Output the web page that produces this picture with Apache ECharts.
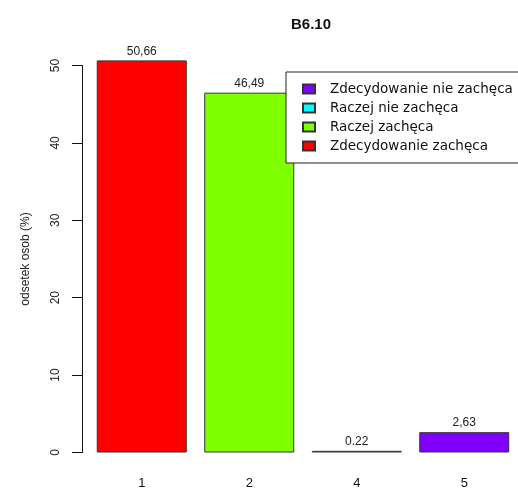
<!DOCTYPE html>
<html>
<head>
<meta charset="utf-8">
<script src="https://cdn.jsdelivr.net/npm/echarts@6/dist/echarts.min.js"></script>
<style>
  html, body { margin: 0; padding: 0; background: #ffffff; }
  #chart { width: 518px; height: 492px; }
</style>
</head>
<body>
<div id="chart"></div>
<script>
// Categories on the x axis
const categories = ['1', '2', '4', '5'];
// Answer groups, one per bar
const seriesNames = ['Zdecydowanie zachęca', 'Raczej zachęca', 'Raczej nie zachęca', 'Zdecydowanie nie zachęca'];
// Percentage of respondents
const values = [50.66, 46.49, 0.22, 2.63];
// Value labels printed above bars
const valueLabels = ['50,66', '46,49', '0.22', '2,63'];
// Bar colours
const colors = ['#FF0000', '#80FF00', '#00FFFF', '#8000FF'];
// Legend order (top to bottom)
const legendOrder = ['Zdecydowanie nie zachęca', 'Raczej nie zachęca', 'Raczej zachęca', 'Zdecydowanie zachęca'];
// Y axis ticks
const yTicks = [0, 10, 20, 30, 40, 50];

const FONT = 'Liberation Sans';

const series = seriesNames.map((name, i) => ({
  name: name,
  type: 'bar',
  stack: 'all',
  barWidth: 90,
  clip: false,
  data: categories.map((c, j) => (j === i ? values[i] : '-')),
  itemStyle: { color: colors[i], borderColor: '#333333', borderWidth: 1 },
  label: {
    show: true,
    position: 'top',
    distance: 3,
    fontFamily: FONT,
    fontSize: 12,
    color: '#222',
    formatter: (p) => valueLabels[p.dataIndex]
  }
}));

const chart = echarts.init(document.getElementById('chart'), null, { renderer: 'canvas' });
chart.setOption({
  backgroundColor: '#ffffff',
  animation: false,
  color: colors,
  title: {
    text: 'B6.10',
    left: 306,
    top: 12,
    textAlign: 'center',
    textStyle: { fontFamily: FONT, fontSize: 15, fontWeight: 'bold', color: '#111' }
  },
  legend: {
    data: legendOrder,
    orient: 'vertical',
    left: 286,
    top: 72,
    icon: 'rect',
    itemWidth: 12,
    itemHeight: 9,
    itemGap: 5,
    padding: [10, 10, 10, 16],
    borderColor: '#222',
    borderWidth: 1,
    backgroundColor: '#ffffff',
    textStyle: { fontFamily: 'DejaVu Sans', fontSize: 13.5, lineHeight: 14, color: '#111', padding: [0, 0, 0, 10] }
  },
  grid: { left: 88, top: 65.5, width: 436, bottom: 39.5 },
  xAxis: {
    type: 'category',
    data: categories,
    axisLine: { show: false },
    axisTick: { show: false },
    axisLabel: { margin: 24, fontFamily: FONT, fontSize: 13, color: '#111' }
  },
  yAxis: {
    type: 'value',
    min: 0,
    max: 50,
    interval: 10,
    offset: 6,
    name: 'odsetek osob (%)',
    nameLocation: 'middle',
    nameGap: 50,
    nameTextStyle: { fontFamily: FONT, fontSize: 12, color: '#222' },
    axisLine: { show: true, lineStyle: { color: '#111', width: 1 } },
    axisTick: { show: true, length: 10, lineStyle: { color: '#111' } },
    axisLabel: {
      rotate: 90,
      margin: 20,
      fontFamily: FONT,
      fontSize: 12,
      color: '#222',
      customValues: yTicks
    },
    splitLine: { show: false }
  },
  series: series
});
</script>
</body>
</html>
